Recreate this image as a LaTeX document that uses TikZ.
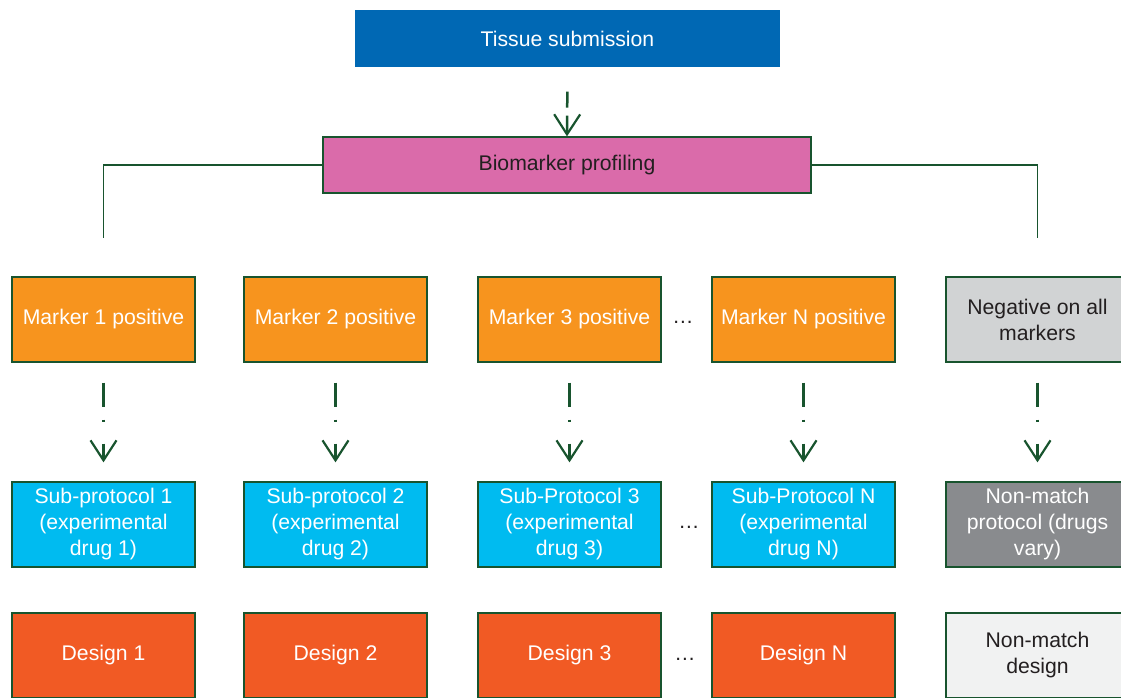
\documentclass[tikz,border=0pt]{standalone}
\usepackage{fontspec}
\setmainfont{Liberation Sans}
\usetikzlibrary{arrows.meta}
\definecolor{dgreen}{RGB}{24,84,46}
\definecolor{tblue}{RGB}{0,104,180}
\definecolor{bpink}{RGB}{218,107,170}
\definecolor{morange}{RGB}{247,148,30}
\definecolor{scyan}{RGB}{0,187,240}
\definecolor{dred}{RGB}{241,90,36}
\definecolor{lgray}{RGB}{209,211,212}
\definecolor{mgray}{RGB}{137,139,142}
\definecolor{vlgray}{RGB}{241,242,242}
\definecolor{dtext}{RGB}{35,31,32}
\begin{document}
\begin{tikzpicture}[x=1pt,y=-1pt,
  box/.style={draw=dgreen, line width=1.3pt, minimum width=183pt, minimum height=85pt,
    inner sep=0pt, align=center, font=\fontsize{21.2}{26}\selectfont, text=white},
  flow/.style={draw=dgreen, line width=2.5pt,
    -{Straight Barb[length=20pt,width=26pt,line width=2.2pt]}},
  rowflow/.style={flow, shorten >=19pt,
    dash pattern=on 0pt off 20pt on 24pt off 13pt on 2pt off 22pt on 100pt},
  link/.style={draw=dgreen, line width=1.6pt},
  dotsnode/.style={text=dtext, font=\fontsize{21.2}{26}\selectfont, inner sep=0pt}]
\useasboundingbox (0,0) rectangle (1121,697);

\node[box, fill=tblue, draw=none, minimum width=425pt, minimum height=57pt] (tis) at (567.5,38.5) {Tissue submission};
\node[box, fill=bpink, text=dtext, minimum width=488pt, minimum height=56pt] (bio) at (567,165) {Biomarker profiling};

% row 1
\node[box, fill=morange] (m1) at (103.5,319.5) {Marker 1 positive};
\node[box, fill=morange] (m2) at (335.5,319.5) {Marker 2 positive};
\node[box, fill=morange] (m3) at (569.5,319.5) {Marker 3 positive};
\node[box, fill=morange] (m4) at (803.5,319.5) {Marker N positive};
\node[box, fill=lgray, text=dtext] (m5) at (1037.5,319.5) {Negative on all\\markers};

% row 2
\node[box, fill=scyan] (s1) at (103.5,524.5) {Sub-protocol 1\\(experimental\\drug 1)};
\node[box, fill=scyan] (s2) at (335.5,524.5) {Sub-protocol 2\\(experimental\\drug 2)};
\node[box, fill=scyan] (s3) at (569.5,524.5) {Sub-Protocol 3\\(experimental\\drug 3)};
\node[box, fill=scyan] (s4) at (803.5,524.5) {Sub-Protocol N\\(experimental\\drug N)};
\node[box, fill=mgray] (s5) at (1037.5,524.5) {Non-match\\protocol (drugs\\vary)};

% row 3
\node[box, fill=dred] (d1) at (103.5,655.5) {Design 1};
\node[box, fill=dred] (d2) at (335.5,655.5) {Design 2};
\node[box, fill=dred] (d3) at (569.5,655.5) {Design 3};
\node[box, fill=dred] (d4) at (803.5,655.5) {Design N};
\node[box, fill=vlgray, text=dtext] (d5) at (1037.5,655.5) {Non-match\\design};

% ellipses
\node[dotsnode] (e1) at (683,322) {…};
\node[dotsnode] (e2) at (689,527) {…};
\node[dotsnode] (e3) at (685,659) {…};

% connectors
\draw[flow, dash pattern=on 0pt off 24pt on 16pt off 8pt on 100pt] (tis.south) -- (bio.north);
\coordinate (lend) at (103.5,238);
\coordinate (rend) at (1037.5,238);
\draw[link] (bio.west) -| (lend);
\draw[link] (bio.east) -| (rend);
\foreach \i in {1,...,5} {
  \draw[rowflow] (m\i.south) -- (s\i.north);
}
\end{tikzpicture}
\end{document}
